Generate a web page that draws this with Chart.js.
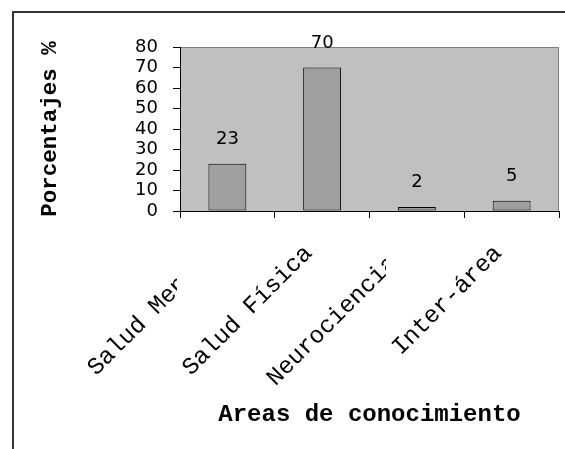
<!DOCTYPE html>
<html>
<head>
<meta charset="utf-8">
<script src="https://cdn.jsdelivr.net/npm/chart.js@4"></script>
<style>
  html, body { margin: 0; padding: 0; background: #fff; }
  #wrap { position: relative; width: 565px; height: 449px; }
  #frame { position: absolute; left: 12px; top: 11px; right: 0; bottom: 0;
           border-top: 2px solid #333; border-left: 2px solid #333; pointer-events: none; }
</style>
</head>
<body>
<div id="wrap">
  <canvas id="c" width="565" height="449"></canvas>
  <div id="frame"></div>
</div>
<script>
const categories = ["Salud Mental", "Salud Física", "Neurociencias", "Inter-área"];
const values = [23, 70, 2, 5];
const yTicks = [0, 10, 20, 30, 40, 50, 60, 70, 80];
const yTitle = "Porcentajes %";
const xTitle = "Areas de conocimiento";

const MONO = "'Courier New', 'Nimbus Mono PS', 'FreeMono', 'Liberation Mono', monospace";
const SANS = "'DejaVu Sans', sans-serif";

const plotBg = {
  id: 'plotBg',
  beforeDraw(chart) {
    const {ctx, chartArea: a} = chart;
    ctx.save();
    ctx.fillStyle = '#c0c0c0';
    ctx.fillRect(a.left, a.top, a.right - a.left, a.bottom - a.top);
    ctx.strokeStyle = '#808080';
    ctx.lineWidth = 1;
    ctx.beginPath();
    ctx.moveTo(a.left, a.top + 0.5);
    ctx.lineTo(a.right - 0.5, a.top + 0.5);
    ctx.lineTo(a.right - 0.5, a.bottom);
    ctx.stroke();
    ctx.restore();
  }
};

const valueLabels = {
  id: 'valueLabels',
  afterDatasetsDraw(chart) {
    const {ctx} = chart;
    const meta = chart.getDatasetMeta(0);
    ctx.save();
    ctx.font = "18px " + SANS;
    ctx.fillStyle = '#000';
    ctx.textAlign = 'center';
    ctx.textBaseline = 'alphabetic';
    meta.data.forEach((bar, i) => {
      ctx.fillText(String(values[i]), bar.x, bar.y - 20);
    });
    ctx.restore();
  }
};

// category labels, rotated 45°, end-anchored at each tick, clipped like the original
const xLabels = {
  id: 'xLabels',
  afterDraw(chart) {
    const {ctx, chartArea: a} = chart;
    const xs = chart.scales.x;
    const clipRight = [177, null, 386, null];
    ctx.save();
    ctx.font = "24px " + MONO;
    ctx.fillStyle = '#000';
    ctx.textAlign = 'right';
    ctx.textBaseline = 'alphabetic';
    categories.forEach((lab, i) => {
      const x = xs.getPixelForTick(i) - 9;
      const y = a.bottom + 43;
      ctx.save();
      if (clipRight[i] !== null) {
        ctx.beginPath();
        ctx.rect(0, 0, clipRight[i], 449);
        ctx.clip();
      }
      ctx.translate(x, y);
      ctx.rotate(-Math.PI / 4);
      ctx.fillText(lab, 0, 0);
      ctx.restore();
    });
    ctx.restore();
  }
};

new Chart(document.getElementById('c'), {
  type: 'bar',
  data: {
    labels: categories,
    datasets: [{
      data: values,
      backgroundColor: '#a0a0a0',
      borderColor: '#000',
      borderWidth: 1,
      borderSkipped: false,
      categoryPercentage: 1.0,
      barPercentage: 0.4
    }]
  },
  options: {
    responsive: false,
    animation: false,
    devicePixelRatio: 1,
    layout: { padding: { top: 47, right: 6, left: 0, bottom: 0 } },
    plugins: { legend: { display: false }, tooltip: { enabled: false } },
    scales: {
      x: {
        offset: true,
        grid: { offset: true, drawOnChartArea: false, drawTicks: true, tickLength: 7, color: '#000' },
        border: { display: true, color: '#000', width: 1 },
        ticks: { display: false },
        title: { display: true, text: xTitle, color: '#000',
                 font: { family: MONO, size: 24, weight: 'bold', lineHeight: 1.2 },
                 padding: { top: 0, bottom: 20 } },
        afterFit(s) { s.height = 238; }
      },
      y: {
        min: 0, max: 80,
        afterBuildTicks(s) { s.ticks = yTicks.map(v => ({ value: v })); },
        grid: { drawOnChartArea: false, drawTicks: true, tickLength: 7, color: '#000' },
        border: { display: true, color: '#000', width: 1 },
        ticks: { color: '#000', padding: 15, autoSkip: false, font: { family: SANS, size: 18 } },
        title: { display: true, text: yTitle, color: '#000',
                 font: { family: MONO, size: 22.5, weight: 'bold', lineHeight: 1.2 },
                 padding: { top: 37, bottom: 0 } },
        afterFit(s) { s.width = 180; }
      }
    }
  },
  plugins: [plotBg, valueLabels, xLabels]
});
</script>
</body>
</html>
